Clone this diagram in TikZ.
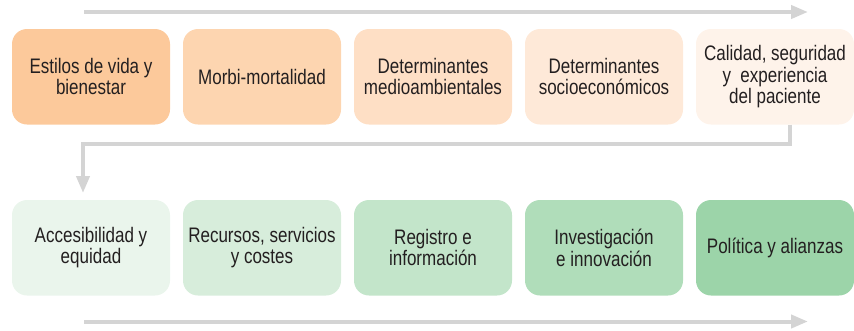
\documentclass[tikz,border=0pt]{standalone}
\usepackage{fontspec}
\setmainfont{Liberation Sans}[FakeStretch=0.81]
\usetikzlibrary{calc,positioning,arrows.meta}

\definecolor{naranja1}{HTML}{FCC99B}
\definecolor{naranja2}{HTML}{FDD5B0}
\definecolor{naranja3}{HTML}{FEDFC5}
\definecolor{naranja4}{HTML}{FEE9D8}
\definecolor{naranja5}{HTML}{FEF3EA}
\definecolor{verde1}{HTML}{EAF5EC}
\definecolor{verde2}{HTML}{D7EDDB}
\definecolor{verde3}{HTML}{C3E5CA}
\definecolor{verde4}{HTML}{B0DDBA}
\definecolor{verde5}{HTML}{9CD4A9}
\definecolor{gris}{HTML}{D4D4D4}
\definecolor{texto}{HTML}{231F20}

\tikzset{
  caja/.style={rounded corners=15pt, minimum width=158pt, minimum height=95.5pt,
               align=center, inner sep=2pt, outer sep=0pt, text=texto,
               font=\fontsize{21}{21.3}\selectfont},
  flecha/.style={draw=gris, line width=4pt, -{Triangle[width=13pt,length=17pt]}}
}

\begin{document}
\begin{tikzpicture}[x=1pt,y=-1pt, node distance=75.5pt and 13pt]
\useasboundingbox (0,0) rectangle (854,330);

% fila superior
\node[caja, fill=naranja1, anchor=north west] (estilos) at (12,29) {Estilos de vida y\\bienestar};
\node[caja, fill=naranja2, right=of estilos] (morbi) {Morbi-mortalidad};
\node[caja, fill=naranja3, right=of morbi] (medio) {Determinantes\\medioambientales};
\node[caja, fill=naranja4, right=of medio] (socio) {Determinantes\\socioeconómicos};
\node[caja, fill=naranja5, right=of socio] (calidad) {Calidad, seguridad\\y~~experiencia\\del paciente};

% fila inferior
\node[caja, fill=verde1, below=of estilos] (acceso) {Accesibilidad y\\equidad};
\node[caja, fill=verde2, right=of acceso] (recursos) {Recursos, servicios\\y costes};
\node[caja, fill=verde3, right=of recursos] (registro) {Registro e\\información};
\node[caja, fill=verde4, right=of registro] (invest) {Investigación\\e innovación};
\node[caja, fill=verde5, right=of invest] (politica) {Política y alianzas};

\coordinate (inicioA) at ($(estilos.north west)+(72,-17)$);
\coordinate (finA)    at ($(calidad.north west)+(112,-17)$);
\coordinate (inicioB) at ($(acceso.south west)+(72,26)$);
\coordinate (finB)    at ($(politica.south west)+(112,26)$);

\draw[flecha] (inicioA) -- (finA);

\draw[flecha]
  ($(calidad.south)+(15,0)$) -- ++(0,19.5)
  -| ($(acceso.north)+(-8,-7)$);

\draw[flecha] (inicioB) -- (finB);
\end{tikzpicture}
\end{document}
